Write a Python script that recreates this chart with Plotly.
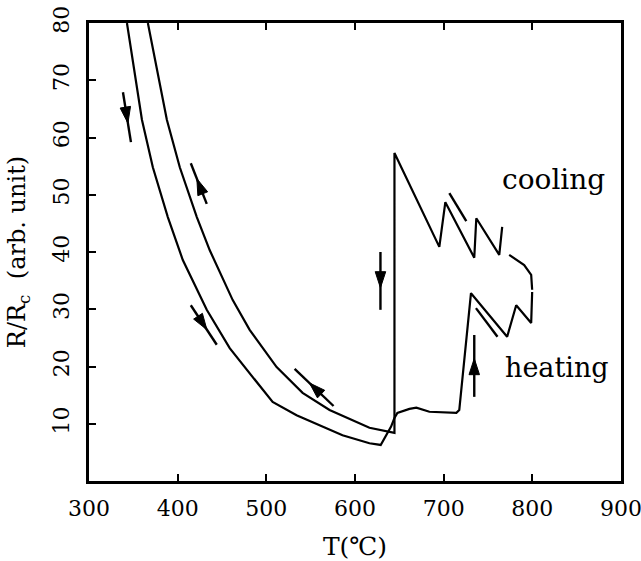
import plotly.graph_objects as go

# ---------------- data ----------------
heat_T = [342.8, 349.5, 359.7, 372.0, 388.9, 405.8, 432.8, 458.7, 481.2, 507.1, 534.1,
          585.9, 616.3, 629.0, 640.7, 644.5, 647.8, 661.4, 669.2, 683.9, 714.3, 717.6,
          730.8, 771.6, 781.8, 798.7, 799.8]
heat_R = [80.0, 73.0, 63.1, 54.8, 46.1, 38.6, 29.9, 23.2, 18.9, 13.8, 11.5,
          8.0, 6.6, 6.3, 9.5, 11.0, 11.9, 12.6, 12.8, 12.1, 11.9, 12.4,
          32.8, 25.2, 30.7, 27.6, 33.0]

cool_T = [366.4, 374.3, 387.8, 402.4, 421.6, 436.2, 462.1, 481.2, 511.6, 540.9, 571.3,
          616.3, 635.5, 644.5, 644.5, 695.1, 701.9, 734.5, 736.8, 762.7, 766.0]
cool_R = [80.0, 73.5, 63.1, 54.8, 46.1, 40.3, 31.6, 26.4, 19.9, 15.4, 12.4,
          9.3, 8.6, 8.4, 57.3, 40.9, 48.7, 39.0, 45.9, 39.5, 44.4]

cool_tail_T = [773.9, 790.8, 798.7, 799.8]
cool_tail_R = [39.5, 37.7, 36.0, 33.4]

# direction arrows: tail -> tip
arrow_T0 = [338.3, 432.8, 414.8, 575.8, 628.7, 734.5]
arrow_R0 = [67.9, 48.4, 30.7, 13.1, 40.0, 14.7]
arrow_T1 = [347.3, 414.8, 444.1, 531.9, 628.7, 734.5]
arrow_R1 = [59.2, 55.5, 23.8, 19.6, 29.9, 25.5]

# plain direction marks along the saw-tooth parts
mark_T0 = [706.4, 736.4]
mark_R0 = [50.3, 30.2]
mark_T1 = [725.5, 760.7]
mark_R1 = [45.4, 25.2]

x_ticks = [300, 400, 500, 600, 700, 800, 900]
y_ticks = [10, 20, 30, 40, 50, 60, 70, 80]

FONT = "DejaVu Serif, Liberation Serif, serif"
BLACK = "#000000"

fig = go.Figure()

line_style = dict(color=BLACK, width=2.2)
fig.add_trace(go.Scatter(x=heat_T, y=heat_R, mode="lines", line=line_style,
                         showlegend=False, hoverinfo="skip"))
fig.add_trace(go.Scatter(x=cool_T, y=cool_R, mode="lines", line=line_style,
                         showlegend=False, hoverinfo="skip"))
fig.add_trace(go.Scatter(x=cool_tail_T, y=cool_tail_R, mode="lines", line=line_style,
                         showlegend=False, hoverinfo="skip"))

# arrows: shaft + head marker oriented along the shaft
for t0, r0, t1, r1 in zip(arrow_T0, arrow_R0, arrow_T1, arrow_R1):
    hx = t0 + 0.62 * (t1 - t0)
    hy = r0 + 0.62 * (r1 - r0)
    fig.add_trace(go.Scatter(
        x=[t0, hx, t1], y=[r0, hy, r1], mode="lines+markers",
        line=dict(color=BLACK, width=2.4),
        marker=dict(symbol="arrow", size=[0, 17, 0], color=BLACK, opacity=1,
                    angleref="previous", line=dict(width=1, color=BLACK)),
        showlegend=False, hoverinfo="skip"))

mx, my = [], []
for t0, r0, t1, r1 in zip(mark_T0, mark_R0, mark_T1, mark_R1):
    mx += [t0, t1, None]
    my += [r0, r1, None]
fig.add_trace(go.Scatter(x=mx, y=my, mode="lines", line=dict(color=BLACK, width=2.4),
                         showlegend=False, hoverinfo="skip", connectgaps=False))

annotations = [
    dict(text="cooling", x=(553 - 89) / 532, y=(481 - 179) / 458, xref="paper", yref="paper",
         showarrow=False, xanchor="center", yanchor="middle",
         font=dict(family=FONT, size=28, color=BLACK)),
    dict(text="heating", x=(557 - 89) / 532, y=(481 - 367) / 458, xref="paper", yref="paper",
         showarrow=False, xanchor="center", yanchor="middle",
         font=dict(family=FONT, size=27, color=BLACK)),
]

fig.update_layout(
    width=641, height=561,
    margin=dict(l=89, r=20, t=23, b=80),
    paper_bgcolor="white", plot_bgcolor="white",
    annotations=annotations,
    xaxis=dict(range=[300, 900], tickvals=x_ticks, ticktext=[str(v) for v in x_ticks],
               ticks="inside", ticklen=7, tickwidth=2, tickcolor=BLACK,
               showline=True, linewidth=2.5, linecolor=BLACK, mirror="ticks",
               showgrid=False, zeroline=False, ticklabelstandoff=6,
               ticklabeloverflow="allow", automargin=False,
               tickfont=dict(family=FONT, size=22, color=BLACK),
               title=dict(text="T(℃)", standoff=20,
                          font=dict(family=FONT, size=25, color=BLACK))),
    yaxis=dict(range=[0, 80], tickvals=y_ticks, ticktext=[str(v) for v in y_ticks],
               ticks="inside", ticklen=7, tickwidth=2, tickcolor=BLACK,
               showline=True, linewidth=2.5, linecolor=BLACK, mirror=True,
               showgrid=False, zeroline=False, tickangle=-90, ticklabelstandoff=8,
               automargin=False,
               tickfont=dict(family=FONT, size=22, color=BLACK),
               title=dict(text="R/R<sub>c</sub>  (arb. unit)", standoff=18,
                          font=dict(family=FONT, size=24, color=BLACK))),
)

fig.write_html("out.html", post_script="document.body.style.margin='0';",
               config={"displayModeBar": False})
